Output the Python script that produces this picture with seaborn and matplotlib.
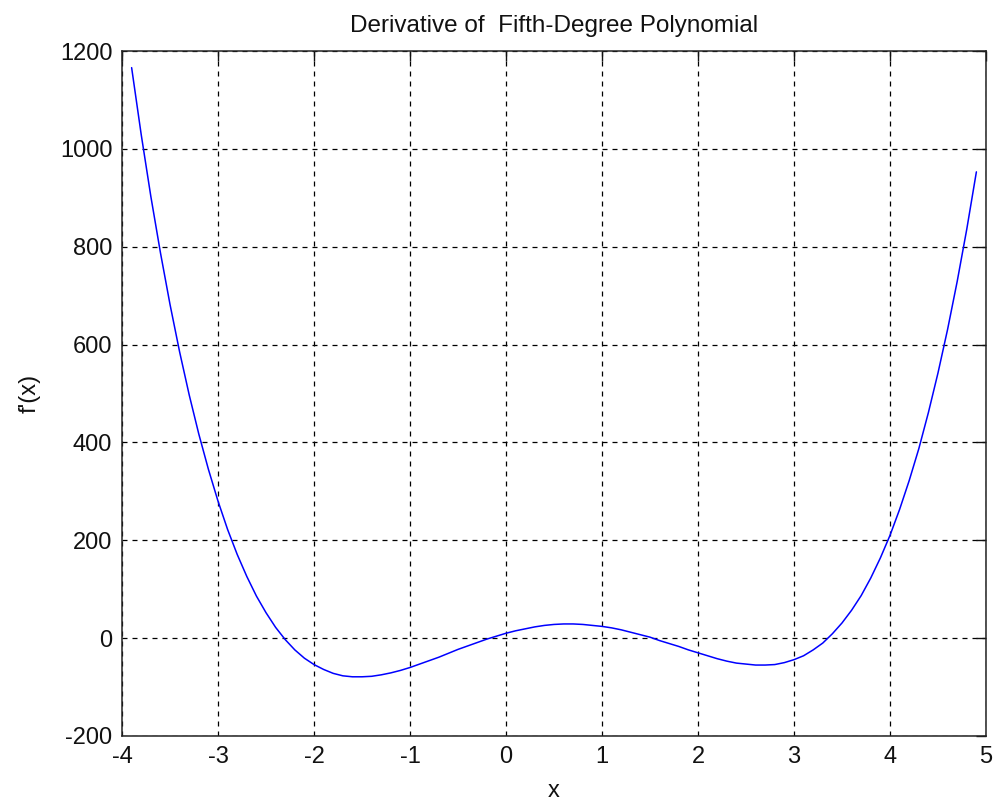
import matplotlib
matplotlib.use('Agg')
import matplotlib.pyplot as plt
import seaborn as sns
import pandas as pd

# values
x_vals = [-3.9, -3.8, -3.7, -3.6, -3.5, -3.4, -3.3, -3.2, -3.1, -3.0,
          -2.9, -2.8, -2.7, -2.6, -2.5, -2.4, -2.3, -2.2, -2.1, -2.0,
          -1.9, -1.8, -1.7, -1.6, -1.5, -1.4, -1.3, -1.2, -1.1, -1.0,
          -0.9, -0.8, -0.7, -0.6, -0.5, -0.4, -0.3, -0.2, -0.1, 0.0,
          0.1, 0.2, 0.3, 0.4, 0.5, 0.6, 0.7, 0.8, 0.9, 1.0,
          1.1, 1.2, 1.3, 1.4, 1.5, 1.6, 1.7, 1.8, 1.9, 2.0,
          2.1, 2.2, 2.3, 2.4, 2.5, 2.6, 2.7, 2.8, 2.9, 3.0,
          3.1, 3.2, 3.3, 3.4, 3.5, 3.6, 3.7, 3.8, 3.9, 4.0,
          4.1, 4.2, 4.3, 4.4, 4.5, 4.6, 4.7, 4.8, 4.9]
dy_vals = [1166, 1029, 903, 788, 682, 585, 497, 417, 345, 280,
           222, 171, 126, 86, 52, 22, -3, -24, -41, -54,
           -64, -72, -77, -79, -79, -78, -75, -71, -66, -60,
           -53, -46, -39, -31, -23, -16, -9, -2, 4, 10,
           15, 19, 23, 26, 28, 29, 29, 28, 26, 24,
           21, 17, 12, 7, 2, -5, -11, -17, -24, -30,
           -36, -42, -47, -51, -53, -55, -55, -54, -50, -44,
           -36, -24, -10, 9, 31, 57, 87, 123, 164, 210,
           263, 322, 387, 461, 542, 631, 729, 836, 953]

x_ticks = [-4, -3, -2, -1, 0, 1, 2, 3, 4, 5]
y_ticks = [-200, 0, 200, 400, 600, 800, 1000, 1200]

df = pd.DataFrame({'x': x_vals, 'dy': dy_vals})

sns.set_style('white')
plt.rcParams['font.family'] = ['Liberation Sans', 'DejaVu Sans']
plt.rcParams['font.size'] = 17
plt.rcParams['axes.unicode_minus'] = False

fig = plt.figure(figsize=(10.01, 8.02), dpi=100, facecolor='white')
ax = fig.add_axes([0.1219, 0.0823, 0.8631, 0.8541])

sns.lineplot(data=df, x='x', y='dy', ax=ax, color='#0000ff', linewidth=1.1, sort=False)

ax.set_xlim(-4, 5)
ax.set_ylim(-200, 1200)
ax.set_xticks(x_ticks)
ax.set_yticks(y_ticks)
ax.grid(True, color='black', linestyle=(0, (4, 4)), linewidth=0.9)
ax.tick_params(direction='in', length=7, width=1, top=True, right=True,
               labelsize=17, colors='#111111', pad=7)
for s in ax.spines.values():
    s.set_visible(True)
    s.set_color('#222222')
    s.set_linewidth(1.1)

ax.set_title("Derivative of  Fifth-Degree Polynomial", fontsize=17.5, color='#111111', pad=14)
ax.set_xlabel('x', fontsize=17, color='#111111', labelpad=9)
ax.set_ylabel("f'(x)", fontsize=17, color='#111111', labelpad=14)

fig.savefig('out.png', dpi=100, facecolor='white')
